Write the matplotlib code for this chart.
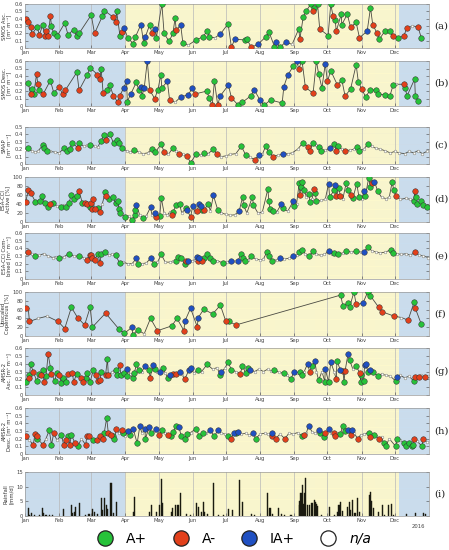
import numpy as np
import matplotlib.pyplot as plt
from matplotlib.lines import Line2D

# x axis: day of year 2016
MONTHS = ['Jan', 'Feb', 'Mar', 'Apr', 'May', 'Jun', 'Jul', 'Aug', 'Sep', 'Oct', 'Nov', 'Dec']
MONTH_START = [0, 31, 60, 91, 121, 152, 182, 213, 244, 274, 305, 335]
SEASON_BREAKS = [91, 339]   # blue -> yellow -> blue

# class codes: g = A+, r = A-, b = IA+, n = n/a
# (a) SMOS Asc.
a_day = [0.5, 3, 5, 6.5, 11, 13, 16, 18, 19, 21, 23, 24, 26, 29, 36, 39, 44, 47, 49, 60, 63, 70, 72, 80, 82, 83, 86, 88,
         90, 93, 98, 100, 105, 107.5, 109, 113, 115, 118, 119, 124, 126, 130.5, 134, 136, 137, 141, 143, 148, 155, 161, 165, 167,
         172, 177, 184, 187, 190, 199, 201, 205, 211, 218, 221, 226, 227, 231, 236, 242, 248, 249, 252, 255,
         259, 261, 262, 265, 267, 274.6, 277, 279, 281, 282, 286.5, 287, 292, 295, 300, 303, 310, 313, 315, 319, 321,
         326, 330.5, 333, 338, 343, 346, 351, 356, 359]
a_val = [0.39, 0.35, 0.29, 0.19, 0.29, 0.18, 0.31, 0.16, 0.23, 0.16, 0.44, 0.30, 0.20, 0.16, 0.34, 0.18, 0.25, 0.16, 0.20,
         0.45, 0.20, 0.43, 0.51, 0.42, 0.35, 0.50, 0.17, 0.22,
         0.27, 0.14, 0.06, 0.15, 0.32, 0.07, 0.15, 0.32, 0.20, 0.26, 0.14, 0.60, 0.20, 0.09, 0.20, 0.41, 0.24, 0.32, 0.07, 0.04,
         0.11, 0.15,
         0.23, 0.15, 0.14, 0.19, 0.33, 0.01, 0.12, 0.11, 0.12, 0.01, 0.05, 0.15, 0.22, 0.02, 0.08, 0.01, 0.08, 0.05, 0.26, 0.12,
         0.42, 0.51,
         0.60, 0.51, 0.55, 0.60, 0.26, 0.17, 0.60, 0.44, 0.38, 0.23, 0.46, 0.32, 0.46, 0.28, 0.35, 0.14, 0.23, 0.55, 0.32, 0.20,
         0.12,
         0.23, 0.23, 0.16, 0.14, 0.16, 0.27, 0.30, 0.29, 0.14]
a_cls = ("rrrrgrgrrrrgggggggggrggrrggr" "bgggbgbgrbggggggrbgngg" "ggnbgrbggrbgggbgbngrgg"
         "grggrggrgrgggrgrbgrrg" "ggrgrrnrg")

# (b) SMOS Desc.
b_day = [3, 5, 6.5, 8, 10.5, 11.5, 13, 16.5, 23, 26, 31, 34, 36.5, 47, 49, 56.6, 59, 65.6, 67.7, 69, 70.8, 74, 76.8, 80,
         84, 86, 89.4, 92, 92.7, 95.8, 101, 103, 105, 106, 108, 110.8, 113, 117.5, 120.5, 123, 124, 129, 131, 136, 141, 148,
         151.5, 154,
         165, 166.6, 169.6, 171.6, 174.6, 176.7, 184.3, 187, 192.6, 197, 205, 207.5, 212.9, 216.5, 222.5, 233, 234.5, 238,
         243, 246, 248, 251,
         254, 261, 264, 266, 269, 272, 274, 277, 283, 287, 290, 295, 300, 302, 305, 308.6, 313, 317.6, 320, 326, 330.5, 333.5,
         336.5,
         343, 344.6, 346, 353, 353.6, 355.8]
b_val = [0.31, 0.16, 0.23, 0.16, 0.43, 0.30, 0.21, 0.16, 0.34, 0.18, 0.25, 0.16, 0.21, 0.45, 0.21, 0.42, 0.51, 0.42, 0.36,
         0.49, 0.17, 0.22, 0.28, 0.14,
         0.05, 0.14, 0.24, 0.33, 0.06, 0.16, 0.32, 0.21, 0.26, 0.14, 0.24, 0.60, 0.21, 0.10, 0.22, 0.42, 0.24, 0.33, 0.08, 0.05,
         0.12, 0.15, 0.24, 0.16,
         0.20, 0.11, 0.01, 0.33, 0.01, 0.13, 0.28, 0.11, 0.02, 0.05, 0.14, 0.22, 0.08, 0.01, 0.08, 0.04, 0.26, 0.41, 0.53, 0.60,
         0.50, 0.60,
         0.25, 0.17, 0.60, 0.43, 0.24, 0.56, 0.33, 0.47, 0.28, 0.35, 0.13, 0.23, 0.55, 0.32, 0.23, 0.12, 0.22, 0.21, 0.16, 0.15,
         0.13, 0.28, 0.29,
         0.29, 0.24, 0.13, 0.36, 0.14, 0.07]
b_cls = ("grggrrgrggrrrgrggrrgrggr" "rrbbgbggbgbbrrgggbrnbbbr" "ggrgrbbrgggbbgggbbgbrg"
         "rrgggbrgrgrgggr" "ggggggg" "n" "rggggg")

# (c) SMAP
c_day = [0, 3, 6, 9, 12, 16, 17.5, 19.6, 23, 27, 31, 35, 37.6, 40.6, 43, 47.6, 49, 53, 56, 59, 63, 66, 68.7, 71.7, 73,
         76.8, 80.4, 83, 85, 88, 92, 95, 99, 103, 107, 111, 115, 118, 123.5, 126, 130, 134, 137, 139.5, 143, 146.6, 150, 155,
         159, 162.6,
         166, 170.6, 174, 178, 182, 186, 191, 196, 200, 204, 208, 212, 215, 218, 221, 225, 229, 234, 238, 242, 247, 252, 256,
         258, 261,
         264, 266, 268, 272, 276, 280, 282, 284, 287, 290, 294, 298, 301, 303, 307, 310.5, 314, 318, 322, 326, 331, 335, 339,
         344, 348, 352, 356, 360, 364]
c_val = [0.19, 0.22, 0.18, 0.16, 0.18, 0.25, 0.21, 0.18, 0.17, 0.16, 0.15, 0.21, 0.17, 0.20, 0.29, 0.22, 0.29, 0.24, 0.25,
         0.26, 0.24, 0.23, 0.31, 0.39, 0.33,
         0.40, 0.28, 0.33, 0.28, 0.21, 0.18, 0.16, 0.19, 0.16, 0.14, 0.15, 0.20, 0.16, 0.27, 0.16, 0.13, 0.22, 0.17, 0.14, 0.13,
         0.11, 0.02, 0.13, 0.12, 0.15,
         0.14, 0.20, 0.13, 0.10, 0.11, 0.13, 0.14, 0.24, 0.12, 0.09, 0.06, 0.12, 0.13, 0.24, 0.16, 0.10, 0.12, 0.13, 0.14, 0.15,
         0.20, 0.29, 0.23, 0.18, 0.29,
         0.25, 0.23, 0.17, 0.19, 0.21, 0.27, 0.18, 0.24, 0.20, 0.17, 0.19, 0.20, 0.23, 0.18, 0.20, 0.27, 0.24, 0.21, 0.20, 0.18,
         0.15, 0.17, 0.15, 0.14, 0.17, 0.15, 0.18, 0.14, 0.17]
c_cls = ("ngnnngggnnnggggrgnngnnggr" "gggggnngnnngggrngnrnrggng" "ngrnnnnggnrbnggrnbnnngrrg"
         "nggnbgrgnrnnggng" "nnnnnnnnnnnnn")

# (d) ESA-CCI Active
d_day = [0.5, 3, 5.5, 9.5, 12, 14, 15.6, 18, 21, 22.6, 25.6, 29, 32.5, 35, 37, 40, 41.6, 44, 47, 49,
         52, 54.6, 56, 58.6, 59.7, 61, 61.6, 63, 66, 68, 70, 72.8, 73.8, 76.5, 79.6, 82, 84, 85, 86, 88,
         90.5, 94, 97, 99.6, 100, 101, 104, 107, 110, 113.7, 115, 117.6, 119, 122, 123.5, 126, 129, 131, 133.6, 134,
         137, 140, 142, 146, 147, 150, 152, 154, 156, 157.5, 159, 160, 162.6, 165.6, 168, 170.7, 174.6, 178, 182, 186,
         190, 194, 197.2, 198, 201, 206, 207, 211, 215, 220, 221, 222, 224.3, 228, 232, 234, 238, 243, 244, 246,
         248.4, 249, 250, 251, 253, 255, 257.5, 258, 260, 262, 263, 264, 268, 272, 275, 276, 280, 280.6, 282, 284.5,
         285.5, 288, 291, 292.6, 295.7, 297, 300.6, 302.5, 305, 307.5, 308.3, 311.4, 313, 314.5, 316.6, 319.6, 323, 327,
         330, 332.7,
         334, 336.5, 340, 345, 349, 352, 353.2, 353.8, 355, 359, 361, 364]
d_val = [44, 70, 64, 44, 42, 46, 58, 42, 33, 40, 42, 36, 33, 38, 33, 42, 59, 52, 58, 68,
         42, 42, 40, 33, 42, 29, 50, 29, 31, 22, 40, 67, 58, 52, 56, 42, 47, 29, 21, 18,
         11, 14, 5, 16, 27, 37, 15, 9, 14, 33, 16, 19, 11, 13, 53, 20, 15, 22, 16, 22,
         37, 40, 20, 31, 26, 11, 36, 22, 24, 40, 35, 26, 27, 40, 25, 59, 27, 20, 17, 15,
         16, 24, 56, 37, 20, 56, 37, 20, 22, 73, 46, 28, 24, 22, 39, 30, 24, 46, 36, 40,
         87, 61, 78, 90, 70, 55, 63, 44, 50, 74, 65, 46, 48, 50, 85, 56, 70, 83, 58, 76,
         58, 52, 87, 70, 61, 53, 85, 56, 52, 68, 58, 98, 78, 87, 90, 68, 55, 52, 55, 90,
         70, 58, 50, 53, 50, 46, 68, 56, 41, 46, 37, 33]
d_cls = ("rrrgnggggrgngngggggr" "grrgrrrrgrngrggggggn" "gngggbngnbnbrggnnnrg" "ggngbrbnrbbgrgnbgnnn"
         "nbggnggnnggggnbgnbgn" "grgggnggnrggnnbggbrg" "rnggrgggnbgggrbgnnng" "grnnngrggggg")

# (e) ESA-CCI Combined
e_day = [0, 3, 6, 9.5, 13, 17, 21, 25, 28, 31, 35, 40, 44, 49, 53, 56, 58.7, 60, 61, 63,
         66, 68, 69, 72.8, 76, 79, 82, 85.7, 89, 93, 97, 101, 102, 106, 110, 113.7, 117, 120, 123.5, 127,
         131, 134, 137, 138.6, 141.6, 144.6, 146, 147.5, 151, 154, 156, 157, 157.5, 160, 162, 165, 168, 170, 174, 179,
         183, 187, 190, 193, 196, 197.6, 199, 202, 205, 209, 213, 216, 219, 221, 224, 228, 231, 235, 239, 243,
         246, 248, 251, 254, 257, 261, 264, 268, 271, 275, 278, 280, 284, 288, 291, 295, 300, 304, 307, 310.5,
         314, 318, 322, 326, 331.6, 333.5, 337, 341, 345, 349, 353.7, 357, 361, 365]
e_val = [0.33, 0.35, 0.32, 0.30, 0.31, 0.33, 0.30, 0.28, 0.29, 0.27, 0.29, 0.33, 0.30, 0.30, 0.28, 0.25, 0.31, 0.31, 0.27, 0.25,
         0.33, 0.21, 0.32, 0.35, 0.31, 0.33, 0.31, 0.21, 0.22, 0.20, 0.20, 0.27, 0.20, 0.20, 0.21, 0.27, 0.20, 0.22, 0.32, 0.22,
         0.22, 0.23, 0.24, 0.29, 0.27, 0.19, 0.23, 0.23, 0.24, 0.25, 0.29, 0.23, 0.27, 0.23, 0.27, 0.32, 0.27, 0.24, 0.24, 0.21,
         0.22, 0.24, 0.23, 0.24, 0.33, 0.27, 0.24, 0.25, 0.30, 0.26, 0.25, 0.26, 0.35, 0.30, 0.24, 0.25, 0.27, 0.26, 0.27, 0.30,
         0.31, 0.35, 0.38, 0.33, 0.30, 0.36, 0.32, 0.31, 0.32, 0.36, 0.33, 0.34, 0.33, 0.34, 0.37, 0.35, 0.36, 0.35, 0.35, 0.42,
         0.37, 0.35, 0.34, 0.35, 0.38, 0.34, 0.33, 0.32, 0.33, 0.31, 0.35, 0.31, 0.30, 0.28]
e_cls = ("nrngnnnnngngngnrrrrr" "grggnnggnnnbgnnbgngn" "nnggggrbnnbrbrggggng" "nbnbgggngnnngggnbnnb"
         "nggnggnnnbnggngngnbg" "nnnnggnnnnrnnn")

# (f) Upscaled Copernicus
f_day = [0.5, 3, 4, 12, 20, 30, 36, 42, 47.6, 54, 59, 61, 73, 85, 90, 97, 97.6, 102, 108, 113.7,
         120, 133, 137.7, 144, 144.7, 150, 156, 157, 162, 170, 177, 182, 185, 191,
         286, 288, 293, 294, 298, 300, 306, 310.5, 313, 320.5, 323.5, 334.6, 341, 347, 352.7, 353.6, 359]
f_val = [63, 62, 33, 40, 45, 33, 17, 65, 42, 25, 65, 20, 52, 16, 6, 20, 2, 14, 5, 40,
         12, 23, 40, 12, 33, 63, 21, 42, 61, 50, 70, 33, 33, 25,
         93, 68, 74, 65, 100, 72, 74, 100, 91, 65, 55, 45, 42, 36, 78, 63, 27]
f_cls = "rnrnnrrgrrggrggbggng" "rggrbbrbgggrgr" "gggggrbggrrrnrgrg"

# (g) AMSR-2 Asc.
g_day = [0.5, 3.3, 4, 5, 7.5, 10.5, 13, 14.5, 16, 17.3, 19, 21, 23, 24, 27, 28.6, 31, 33, 34.6, 36.7,
         39, 43, 44, 47, 51, 52.5, 55.7, 56.3, 59, 62, 64, 66, 68, 69, 73, 74.7, 75.5, 79, 82, 83,
         85.7, 87, 90, 92, 92.7, 95, 97.6, 99, 101, 103, 106, 108.7, 112.6, 113.3, 116, 117.6, 120, 122, 125, 127,
         129.5, 131, 134, 137, 140, 142, 144.6, 148.6, 150, 153, 156.7, 160, 165, 170, 174, 177, 178, 181, 184, 187,
         191, 195, 197, 200, 201.6, 204, 208, 212, 216, 220, 223, 226, 230, 234.5, 237, 240.8, 243.8, 246, 249, 250.6,
         253, 256, 258, 260, 262.6, 264, 266, 269, 271.6, 272, 275, 277, 280, 282, 282.6, 285.6, 288, 289, 290, 292.6,
         294, 297, 299.6, 303.6, 304, 304.6, 306.9, 307.6, 309, 310.7, 313, 315.6, 319.8, 323, 327, 331, 335.7, 336.6, 340,
         344,
         348, 352, 353, 356.6, 359, 362.6, 365]
g_val = [0.17, 0.26, 0.22, 0.39, 0.30, 0.18, 0.27, 0.25, 0.32, 0.16, 0.24, 0.52, 0.35, 0.27, 0.18, 0.28, 0.26, 0.15, 0.22, 0.16,
         0.27, 0.28, 0.17, 0.27, 0.22, 0.16, 0.22, 0.28, 0.17, 0.32, 0.26, 0.18, 0.19, 0.30, 0.26, 0.46, 0.25, 0.30, 0.32, 0.26,
         0.38, 0.26, 0.28, 0.24, 0.33, 0.27, 0.22, 0.28, 0.39, 0.32, 0.30, 0.37, 0.32, 0.22, 0.38, 0.33, 0.30, 0.30, 0.35, 0.28,
         0.22, 0.26, 0.27, 0.27, 0.30, 0.27, 0.20, 0.32, 0.34, 0.28, 0.32, 0.30, 0.39, 0.33, 0.35, 0.25, 0.30, 0.34, 0.42, 0.32,
         0.30, 0.27, 0.37, 0.28, 0.35, 0.32, 0.30, 0.33, 0.30, 0.33, 0.31, 0.32, 0.29, 0.28, 0.26, 0.20, 0.30, 0.28, 0.30, 0.26,
         0.30, 0.40, 0.29, 0.37, 0.43, 0.30, 0.19, 0.30, 0.17, 0.33, 0.17, 0.42, 0.30, 0.20, 0.44, 0.32, 0.31, 0.17, 0.31, 0.52,
         0.45, 0.33, 0.37, 0.28, 0.16, 0.26, 0.18, 0.38, 0.39, 0.29, 0.32, 0.29, 0.24, 0.27, 0.25, 0.24, 0.18, 0.23, 0.25, 0.22,
         0.24, 0.18, 0.23, 0.23, 0.25, 0.23, 0.24]
g_cls = ("ggrgrggrgrgrgrggrggg" "rrrgrrggggrrrgrgrngg" "rgggbnggggnbgrbgnbgn" "gbrrbnrbbngngnngbngg"
         "nrgggbnnnnngngngbngg" "nbrgbngngbgbnrgbrgrb" "gngrgggbbgbggnnngbnn" "ngrrnrn")

# (h) AMSR-2 Desc.
h_day = [0.5, 4, 7.5, 9, 10.5, 11, 13, 16, 19, 22, 24, 26, 29, 33, 35, 37, 39, 40.6, 42, 45,
         48, 51, 55, 56, 58, 62, 65, 68, 71, 71.7, 74, 75.5, 78, 80, 81, 82.6, 85, 87.6, 88.5, 91,
         93.5, 95, 98, 101.6, 104, 106, 108.7, 109, 112.6, 114.6, 117, 119, 121.5, 124.4, 127, 129.5, 132.6, 134, 137, 139.5,
         141.6, 144.6, 146.6, 150, 155, 158, 161, 164, 167.7, 171.6, 174.6, 178, 181, 184.3, 187, 189, 191, 192.6, 196, 200,
         203, 207, 209, 213, 217, 220, 223.6, 224, 227, 231, 235.5, 239, 243, 247, 251, 253, 255, 257, 260, 263,
         266, 267.6, 270.6, 271.6, 275, 277, 279.6, 280.6, 283, 285.6, 288, 290, 293, 295, 296, 298, 301.6, 304, 307, 311.7,
         313, 316, 318, 320.8, 323, 325, 326.7, 330, 335.8, 337.3, 340, 343, 345, 347.6, 350.7, 351.6, 352, 355, 359.7,
         360.6, 364]
h_val = [0.23, 0.18, 0.12, 0.26, 0.23, 0.19, 0.18, 0.12, 0.20, 0.31, 0.12, 0.27, 0.18, 0.25, 0.12, 0.18, 0.23, 0.12, 0.25, 0.15,
         0.10, 0.20, 0.12, 0.23, 0.23, 0.18, 0.18, 0.23, 0.20, 0.27, 0.47, 0.27, 0.25, 0.23, 0.19, 0.33, 0.27, 0.31, 0.28, 0.24,
         0.30, 0.25, 0.33, 0.14, 0.36, 0.27, 0.33, 0.20, 0.35, 0.27, 0.30, 0.33, 0.25, 0.31, 0.27, 0.25, 0.23, 0.29, 0.36, 0.35,
         0.23, 0.20, 0.26, 0.28, 0.33, 0.23, 0.28, 0.27, 0.31, 0.23, 0.31, 0.27, 0.26, 0.23, 0.20, 0.28, 0.27, 0.29, 0.26, 0.27,
         0.25, 0.27, 0.20, 0.26, 0.27, 0.26, 0.23, 0.27, 0.20, 0.26, 0.20, 0.27, 0.26, 0.28, 0.23, 0.25, 0.28, 0.37, 0.29, 0.27,
         0.31, 0.27, 0.22, 0.27, 0.32, 0.28, 0.27, 0.23, 0.27, 0.26, 0.37, 0.30, 0.31, 0.25, 0.31, 0.27, 0.20, 0.25, 0.26, 0.28,
         0.22, 0.25, 0.24, 0.20, 0.22, 0.14, 0.10, 0.20, 0.10, 0.20, 0.18, 0.14, 0.10, 0.15, 0.10, 0.12, 0.20, 0.17, 0.10,
         0.20, 0.16]
h_cls = ("rnrrrgnrnggrngrrgrgr" "gnrrrgrrrggrrggrnrgn" "bgbgbnbgbgnbrgnrgggb" "gggngggnbgbnngrbgbnn"
         "nbgnnnrbrnrnnngrnbnn" "bggrbnrrngggbrbnrnng" "rgnrnggnggngggggrngrn")

# (i) Rainfall [mm/d]
rain_day = [3, 4, 6, 9, 13, 16, 17, 19, 22, 25, 34.6, 42, 43, 44.5, 46, 49.7, 55, 58, 61, 63,
            66, 69.3, 70.5, 72.3, 73.8, 75, 77.4, 78.3, 80, 82.8, 98, 99, 113, 114.4, 119, 122, 123.5, 124.4, 132.5, 134,
            136, 138.6, 141, 146, 150, 155, 157.5, 160, 161.7, 163, 165, 170.7, 175, 180, 184.6, 187.6, 194.2, 197.2, 205, 208,
            219.8, 222, 224, 230, 232, 235, 241, 248.4, 249, 250, 251.4, 252, 253, 254.4, 256, 258, 260, 262, 263, 264,
            265, 269, 275.5, 280, 283, 284.5, 286, 288, 292, 293.6, 295, 296.6, 299, 301, 303, 311.7, 312.6, 314, 316, 320,
            323.7, 326, 329.7, 332, 334, 346, 353.8, 361.4, 362.5]
rain_mm = [2.6, 0.5, 1.1, 0.3, 0.4, 2.6, 1.0, 0.5, 0.4, 0.3, 2.3, 3.7, 1.0, 1.5, 3.2, 4.3, 0.5, 0.7, 2.3, 1.2,
           0.6, 6.0, 2.0, 6.0, 3.7, 2.5, 11.3, 11.4, 1.0, 4.8, 1.2, 6.5, 1.5, 3.7, 1.5, 3.7, 12.5, 4.5, 1.5, 2.6,
           3.7, 3.7, 8.0, 0.8, 0.5, 4.5, 3.2, 1.5, 4.8, 1.5, 0.7, 11.3, 0.5, 0.5, 2.3, 2.0, 12.2, 4.8, 0.6, 0.4,
           8.0, 2.6, 0.7, 2.6, 0.8, 0.4, 0.4, 3.7, 5.0, 7.9, 10.7, 4.0, 7.7, 13.1, 3.8, 3.8, 4.5, 5.6, 4.8, 4.0,
           3.5, 0.5, 3.2, 0.5, 1.5, 3.7, 4.8, 1.7, 3.2, 4.8, 2.0, 5.4, 1.0, 6.0, 1.5, 7.1, 8.2, 5.0, 2.6, 1.5,
           3.7, 0.5, 3.7, 4.0, 0.5, 0.7, 1.1, 0.9, 0.6]

SM_LABEL = '[m³ m⁻³]'
SM_TICKS = [0, 0.1, 0.2, 0.3, 0.4, 0.5, 0.6]
PCT_TICKS = [0, 20, 40, 60, 80, 100]
panels = [
    ('SMOS Asc.\n' + SM_LABEL, a_day, a_val, a_cls, (0, 0.6), SM_TICKS, '(a)'),
    ('SMOS Desc.\n' + SM_LABEL, b_day, b_val, b_cls, (0, 0.6), SM_TICKS, '(b)'),
    ('SMAP\n' + SM_LABEL, c_day, c_val, c_cls, (0, 0.5), SM_TICKS[:6], '(c)'),
    ('ESA-CCI\nActive [%]', d_day, d_val, d_cls, (0, 100), PCT_TICKS, '(d)'),
    ('ESA-CCI Com-\nbined ' + SM_LABEL, e_day, e_val, e_cls, (0, 0.6), SM_TICKS, '(e)'),
    ('Upscaled\nCopernicus [%]', f_day, f_val, f_cls, (0, 100), PCT_TICKS, '(f)'),
    ('AMSR-2\nAsc. ' + SM_LABEL, g_day, g_val, g_cls, (0, 0.6), SM_TICKS, '(g)'),
    ('AMSR-2\nDesc. ' + SM_LABEL, h_day, h_val, h_cls, (0, 0.6), SM_TICKS, '(h)'),
]

# axes extents in pixels (top, bottom) for a 449x550 figure
W, H = 449, 550
X0, X1 = 25, 429
ROWS = [(4, 48), (61, 106), (127, 164), (177, 222), (233, 279), (292, 336), (348, 395), (408, 454), (472, 516)]

COLORS = {'g': '#27c23a', 'r': '#e2401b', 'b': '#2050c2'}
BLUE_BG = '#c9ddee'
YELLOW_BG = '#fcf8cc'
TICK_FS = 3.8

plt.rcParams['font.family'] = 'DejaVu Sans'
fig = plt.figure(figsize=(W / 100, H / 100), dpi=100)


def make_axes(top, bottom):
    return fig.add_axes([X0 / W, 1 - bottom / H, (X1 - X0) / W, (bottom - top) / H])


def style_axes(ax, ylim, yticks, ylabel, tag):
    ax.axvspan(0, SEASON_BREAKS[0], color=BLUE_BG, zorder=0, lw=0)
    ax.axvspan(SEASON_BREAKS[0], SEASON_BREAKS[1], color=YELLOW_BG, zorder=0, lw=0)
    ax.axvspan(SEASON_BREAKS[1], 366, color=BLUE_BG, zorder=0, lw=0)
    ax.set_xlim(0, 366)
    ax.set_ylim(*ylim)
    ax.set_yticks(yticks)
    ax.set_yticklabels([f'{t:g}' for t in yticks])
    ax.set_xticks(MONTH_START)
    ax.set_xticklabels(MONTHS)
    # faint dotted horizontal lines
    step = (ylim[1] - ylim[0]) / 20
    for yy in np.arange(ylim[0] + step, ylim[1], step):
        ax.axhline(yy, color='#d8d8d8', lw=0.3, ls=(0, (1, 1.5)), zorder=1)
    for m in MONTH_START[1:]:
        ax.axvline(m, color='#b8b8b8', lw=0.5, zorder=1)
    ax.tick_params(axis='both', labelsize=TICK_FS, colors='#444444', direction='in',
                   length=2, width=0.4, pad=1.5, right=True)
    for s in ax.spines.values():
        s.set_color('#999999')
        s.set_linewidth(0.5)
    ax.set_ylabel(ylabel, fontsize=TICK_FS, color='#333333', labelpad=2, linespacing=1.0)
    ax.text(1.012, 0.5, tag, transform=ax.transAxes, ha='left', va='center',
            fontsize=7.3, family='DejaVu Serif', color='#222222')


for (ylabel, days, vals, cls, ylim, yticks, tag), (top, bottom) in zip(panels, ROWS[:8]):
    ax = make_axes(top, bottom)
    style_axes(ax, ylim, yticks, ylabel, tag)
    order = np.argsort(days, kind='stable')
    d = np.asarray(days, dtype=float)[order]
    v = np.asarray(vals, dtype=float)[order]
    c = np.asarray(list(cls))[order]
    ax.plot(d, v, color='#4a4a42', lw=0.6, zorder=3)
    na = c == 'n'
    ax.plot(d[na], v[na], 'o', ms=1.9, mfc='white', mec='#8a8a80', mew=0.4, zorder=4)
    for k, col in COLORS.items():
        sel = c == k
        ax.plot(d[sel], v[sel], 'o', ms=4.0, mfc=col, mec='#333333', mew=0.35, zorder=5)

# rainfall panel
ax = make_axes(*ROWS[8])
style_axes(ax, (0, 15), [0, 5, 10, 15], 'Rainfall\n[mm/d]', '(i)')
ax.bar(rain_day, rain_mm, width=1.0, color='#1a1a10', edgecolor='#1a1a10', lw=0.3, zorder=3)
fig.text(418 / W, 1 - 527 / H, '2016', fontsize=TICK_FS, color='#444444', ha='center', va='center')

# legend
handles = [Line2D([], [], ls='', marker='o', ms=11, mfc=col, mec='#222222', mew=0.9)
           for col in [COLORS['g'], COLORS['r'], COLORS['b'], 'white']]
leg = fig.legend(handles, ['A+', 'A-', 'IA+', 'n/a'], loc='center', bbox_to_anchor=(0.515, 1 - 539 / H),
                 ncol=4, frameon=False, fontsize=10, handletextpad=0.5, columnspacing=1.4)
leg.get_texts()[3].set_style('italic')

fig.savefig('out.png', dpi=100)
